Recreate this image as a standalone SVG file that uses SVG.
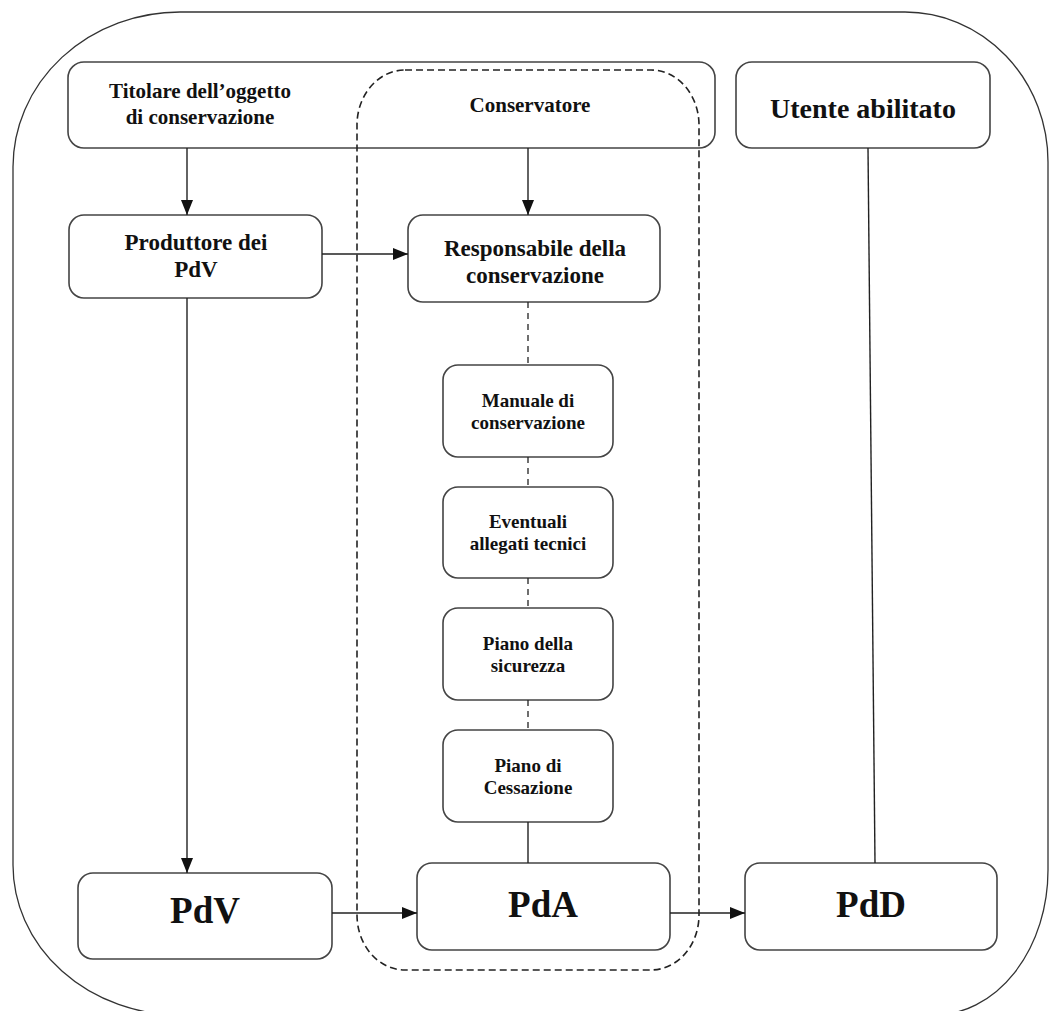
<svg xmlns="http://www.w3.org/2000/svg" width="1051" height="1011" viewBox="0 0 1051 1011">
  <style>
    .box { fill: #ffffff; stroke: #444444; stroke-width: 1.6; }
    .frame { fill: none; stroke: #333333; stroke-width: 1.3; }
    .zone { fill: none; stroke: #222222; stroke-width: 1.6; stroke-dasharray: 7 4; }
    .link { fill: none; stroke: #222222; stroke-width: 1.4; }
    .dash { fill: none; stroke: #222222; stroke-width: 1.3; stroke-dasharray: 6 5; }
    text { font-family: "Liberation Serif", "Times New Roman", serif; font-weight: bold; fill: #111111; text-anchor: middle; }
    .t19 { font-size: 19px; }
    .t21 { font-size: 21px; }
    .t23 { font-size: 23px; }
    .t28 { font-size: 28px; }
    .t37 { font-size: 37px; }
  </style>
  <defs>
    <marker id="arrow" viewBox="0 0 15 12" refX="15" refY="6" markerWidth="15" markerHeight="12" markerUnits="userSpaceOnUse" orient="auto">
      <path d="M0,0 L15,6 L0,12 Z" fill="#111111"/>
    </marker>
  </defs>

  <!-- outer boundary -->
  <path id="boundary" class="frame" d="M180,12 H905 A143 150 0 0 1 1048 162 V870 A114 145 0 0 1 934 1015 H180 A167 150 0 0 1 13 865 V167 A167 155 0 0 1 180 12 Z"/>

  <!-- top row -->
  <g id="titolare">
    <rect class="box" x="68" y="62" width="647" height="86" rx="16"/>
    <text class="t21" x="200" y="98">Titolare dell’oggetto</text>
    <text class="t21" x="200" y="124">di conservazione</text>
  </g>
  <g id="utente">
    <rect class="box" x="736" y="62" width="254" height="86" rx="16"/>
    <text class="t28" x="863" y="118">Utente abilitato</text>
  </g>

  <!-- conservatore area (dashed) -->
  <g id="conservatore">
    <rect class="zone" x="357" y="70" width="342" height="900" rx="48" ry="55"/>
    <text class="t21" x="530" y="112">Conservatore</text>
  </g>

  <g id="produttore">
    <rect class="box" x="69" y="215" width="253" height="83" rx="15"/>
    <text class="t23" x="196" y="250">Produttore dei</text>
    <text class="t23" x="196" y="277">PdV</text>
  </g>
  <g id="responsabile">
    <rect class="box" x="408" y="215" width="252" height="87" rx="15"/>
    <text class="t23" x="535" y="256">Responsabile della</text>
    <text class="t23" x="535" y="283">conservazione</text>
  </g>

  <!-- documents column -->
  <g id="manuale">
    <rect class="box" x="443" y="365" width="170" height="92" rx="15"/>
    <text class="t19" x="528" y="407">Manuale di</text>
    <text class="t19" x="528" y="429">conservazione</text>
  </g>
  <g id="allegati">
    <rect class="box" x="443" y="487" width="170" height="91" rx="15"/>
    <text class="t19" x="528" y="528">Eventuali</text>
    <text class="t19" x="528" y="550">allegati tecnici</text>
  </g>
  <g id="sicurezza">
    <rect class="box" x="443" y="608" width="170" height="92" rx="15"/>
    <text class="t19" x="528" y="650">Piano della</text>
    <text class="t19" x="528" y="672">sicurezza</text>
  </g>
  <g id="cessazione">
    <rect class="box" x="443" y="730" width="170" height="92" rx="15"/>
    <text class="t19" x="528" y="772">Piano di</text>
    <text class="t19" x="528" y="794">Cessazione</text>
  </g>

  <!-- packages -->
  <g id="pdv">
    <rect class="box" x="78" y="873" width="254" height="86" rx="15"/>
    <text class="t37" x="205" y="923">PdV</text>
  </g>
  <g id="pda">
    <rect class="box" x="417" y="863" width="253" height="87" rx="15"/>
    <text class="t37" x="543" y="917">PdA</text>
  </g>
  <g id="pdd">
    <rect class="box" x="745" y="863" width="252" height="87" rx="15"/>
    <text class="t37" x="871" y="917">PdD</text>
  </g>

  <!-- connectors -->
  <g id="connectors">
    <line class="link" x1="187" y1="148" x2="187" y2="215" marker-end="url(#arrow)"/>
    <line class="link" x1="528" y1="148" x2="528" y2="215" marker-end="url(#arrow)"/>
    <line class="link" x1="322" y1="254" x2="408" y2="254" marker-end="url(#arrow)"/>
    <line class="link" x1="187" y1="298" x2="187" y2="873" marker-end="url(#arrow)"/>
    <line class="link" x1="868" y1="148" x2="875" y2="863"/>
    <line class="dash" x1="528" y1="302" x2="528" y2="365"/>
    <line class="dash" x1="528" y1="457" x2="528" y2="487"/>
    <line class="dash" x1="528" y1="578" x2="528" y2="608"/>
    <line class="dash" x1="528" y1="700" x2="528" y2="730"/>
    <line class="link" x1="528" y1="822" x2="528" y2="863"/>
    <line class="link" x1="332" y1="913" x2="417" y2="913" marker-end="url(#arrow)"/>
    <line class="link" x1="670" y1="913" x2="745" y2="913" marker-end="url(#arrow)"/>
  </g>
</svg>
